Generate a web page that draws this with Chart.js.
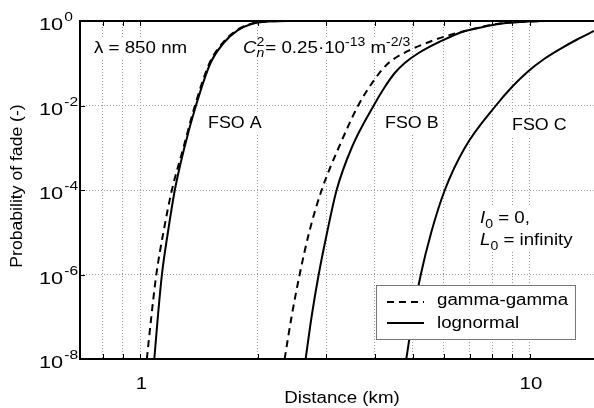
<!DOCTYPE html>
<html>
<head>
<meta charset="utf-8">
<script src="https://cdn.jsdelivr.net/npm/chart.js@4.4.1/dist/chart.umd.min.js"></script>
<style>
  html, body { margin: 0; padding: 0; background: #fff; }
  #wrap { width: 594px; height: 408px; }
</style>
</head>
<body>
<div id="wrap"><canvas id="grafico" width="594" height="408"></canvas></div>
<script>
var FUENTE = '"Liberation Sans", Arial, sans-serif';
var ESTIRA = 1.17; // el texto del original sale algo ensanchado

// Distancia (km) y probabilidad de desvanecimiento
var distA_gg = [1.039, 1.067, 1.099, 1.146, 1.205, 1.290, 1.381, 1.504, 1.625, 1.765, 1.917, 2.108, 2.415, 3.0, 14.6];
var probA_gg = [1e-8, 1e-7, 1e-6, 1e-5, 1e-4, 1e-3, 1e-2, 0.1, 0.3, 0.6, 0.85, 0.97, 1, 1, 1];
var distA_ln = [1.086, 1.109, 1.136, 1.177, 1.226, 1.297, 1.389, 1.513, 1.635, 1.776, 1.929, 2.121, 2.415, 3.0, 14.6];
var probA_ln = [1e-8, 1e-7, 1e-6, 1e-5, 1e-4, 1e-3, 1e-2, 0.1, 0.3, 0.6, 0.85, 0.97, 1, 1, 1];

var distB_gg = [2.346, 2.444, 2.564, 2.712, 2.920, 3.228, 3.624, 3.956, 4.281, 4.820, 5.533, 6.228, 7.295, 7.891, 8.884, 10.0, 11.94, 14.6];
var probB_gg = [1e-8, 1e-7, 1e-6, 1e-5, 1e-4, 1e-3, 1e-2, 0.0366, 0.0912, 0.1875, 0.3236, 0.4677, 0.676, 0.796, 0.927, 0.978, 1, 1];
var distB_ln = [2.656, 2.751, 2.869, 3.016, 3.190, 3.487, 3.972, 4.240, 4.498, 4.771, 5.155, 5.871, 6.726, 7.572, 8.374, 9.426, 10.93, 14.6];
var probB_ln = [1e-8, 1e-7, 1e-6, 1e-5, 1e-4, 1e-3, 1e-2, 0.0274, 0.0588, 0.1014, 0.170, 0.3236, 0.558, 0.721, 0.858, 0.952, 1, 1];

var distC_ln = [4.815, 5.004, 5.246, 5.581, 6.046, 6.806, 8.178, 8.990, 9.883, 10.87, 11.94, 13.21, 14.6];
var probC_ln = [1e-8, 1e-7, 1e-6, 1e-5, 1e-4, 1e-3, 1e-2, 0.0274, 0.0638, 0.126, 0.217, 0.365, 0.58];

// ejes
var xMin = 0.7, xMax = 14.6;
var xGrid = [0.8, 0.9, 1, 2, 3, 4, 5, 6, 7, 8, 9, 10];
var xLabels = [1, 10];
var yTicks = [1e-8, 1e-6, 1e-4, 1e-2, 1];

function puntos(xs, ys) {
  return xs.map(function (x, i) { return { x: x, y: ys[i] }; });
}

function serie(nombre, xs, ys, rayado) {
  return {
    label: nombre,
    data: puntos(xs, ys),
    borderColor: '#000',
    borderWidth: 2,
    borderDash: rayado ? [7, 5] : [],
    pointRadius: 0,
    fill: false,
    cubicInterpolationMode: 'monotone'
  };
}

// dibuja trozos de texto seguidos (sub/superindices con dy)
function texto(ctx, partes, x, y, fondo, estira) {
  var sx = estira || ESTIRA;
  var ancho = 0;
  var medidas = [];
  partes.forEach(function (p) {
    ctx.font = (p.it ? 'italic ' : '') + p.s + 'px ' + FUENTE;
    medidas.push(ctx.measureText(p.t).width * sx);
  });
  // ancho total
  var cx = 0;
  partes.forEach(function (p, i) {
    if (!p.queda) cx += medidas[i] + (p.dx || 0);
    else ancho = Math.max(ancho, cx + medidas[i]);
  });
  ancho = Math.max(ancho, cx);
  if (fondo) {
    ctx.fillStyle = '#fff';
    ctx.fillRect(x - 2, y - 16, ancho + 4, 22);
  }
  ctx.fillStyle = '#000';
  ctx.textBaseline = 'alphabetic';
  ctx.textAlign = 'left';
  partes.forEach(function (p, i) {
    ctx.font = (p.it ? 'italic ' : '') + p.s + 'px ' + FUENTE;
    ctx.save();
    ctx.translate(x + (p.dx || 0), y + (p.dy || 0));
    ctx.scale(sx, 1);
    ctx.fillText(p.t, 0, 0);
    ctx.restore();
    if (!p.queda) x += medidas[i] + (p.dx || 0);
  });
  return ancho;
}

var anotaciones = {
  id: 'anotaciones',
  beforeDatasetsDraw: function (chart) {
    var ctx = chart.ctx;
    ctx.save();
    texto(ctx, [{ t: '\u03bb = 850 nm', s: 16 }], 94, 53, true);
    texto(ctx, [
      { t: 'C', s: 16, it: true },
      { t: '2', s: 12, dy: -7, queda: true },
      { t: 'n', s: 12, it: true, dy: 4 },
      { t: '= 0.25\u00b710', s: 16, dx: 1 },
      { t: '-13', s: 12, dy: -7 },
      { t: ' m', s: 16 },
      { t: '-2/3', s: 12, dy: -7 }
    ], 243, 53, true);
    texto(ctx, [{ t: 'FSO A', s: 17 }], 208, 128, true, 1.05);
    texto(ctx, [{ t: 'FSO B', s: 17 }], 385, 128, true, 1.05);
    texto(ctx, [{ t: 'FSO C', s: 17 }], 512, 130, true, 1.05);
    texto(ctx, [
      { t: 'I', s: 16, it: true },
      { t: '0', s: 12, dy: 5 },
      { t: ' = 0,', s: 16 }
    ], 480, 223, true);
    texto(ctx, [
      { t: 'L', s: 16, it: true },
      { t: '0', s: 12, dy: 5 },
      { t: ' = infinity', s: 16 }
    ], 480, 245, true);
    ctx.restore();
  },
  afterDatasetsDraw: function (chart) {
    var ctx = chart.ctx;
    var a = chart.chartArea;
    var xs = chart.scales.x;
    var ys = chart.scales.y;
    ctx.save();
    // marco de los ejes
    ctx.strokeStyle = '#000';
    ctx.lineWidth = 2;
    ctx.beginPath();
    ctx.moveTo(a.right + 2, a.top);
    ctx.lineTo(a.left, a.top);
    ctx.lineTo(a.left, a.bottom);
    ctx.lineTo(a.right + 2, a.bottom);
    ctx.stroke();
    // marcas hacia dentro
    ctx.lineWidth = 1;
    ctx.beginPath();
    xGrid.forEach(function (v) {
      var px = Math.round(xs.getPixelForValue(v)) + 0.5;
      ctx.moveTo(px, a.top); ctx.lineTo(px, a.top + 5);
      ctx.moveTo(px, a.bottom); ctx.lineTo(px, a.bottom - 5);
    });
    yTicks.forEach(function (v) {
      var py = Math.round(ys.getPixelForValue(v)) + 0.5;
      ctx.moveTo(a.left, py); ctx.lineTo(a.left + 5, py);
    });
    ctx.stroke();

    // leyenda
    ctx.fillStyle = '#fff';
    ctx.fillRect(376, 285, 199, 54);
    ctx.strokeStyle = '#777';
    ctx.lineWidth = 1;
    ctx.strokeRect(376.5, 285.5, 199, 54);
    ctx.strokeStyle = '#000';
    ctx.lineWidth = 2;
    ctx.setLineDash([7, 5]);
    ctx.beginPath(); ctx.moveTo(387, 302); ctx.lineTo(424, 302); ctx.stroke();
    ctx.setLineDash([]);
    ctx.beginPath(); ctx.moveTo(387, 323); ctx.lineTo(424, 323); ctx.stroke();
    texto(ctx, [{ t: chart.data.datasets[0].label, s: 16 }], 437, 305, false);
    texto(ctx, [{ t: chart.data.datasets[1].label, s: 16 }], 437, 328, false);

    // etiquetas del eje y: 10 con exponente
    yTicks.forEach(function (v) {
      var py = ys.getPixelForValue(v);
      var ex = Math.round(Math.log10(v));
      var w = texto(ctx, [{ t: '10', s: 17 }], 39, py + 9, false, 1.28);
      texto(ctx, [{ t: String(ex), s: 13 }], 39 + w + 1, py, false, 1.2);
    });
    // etiquetas del eje x
    xLabels.forEach(function (v) {
      var px = xs.getPixelForValue(v);
      ctx.font = '17px ' + FUENTE;
      var w = ctx.measureText(String(v)).width * 1.2;
      texto(ctx, [{ t: String(v), s: 17 }], px - w / 2 + 1, 389, false, 1.2);
    });
    // titulos
    ctx.font = '16px ' + FUENTE;
    var tx = 'Distance (km)';
    var wx = ctx.measureText(tx).width * ESTIRA;
    texto(ctx, [{ t: tx, s: 16 }], 342 - wx / 2, 403, false);
    ctx.save();
    ctx.translate(22, 186);
    ctx.rotate(-Math.PI / 2);
    var ty = 'Probability of fade (-)';
    ctx.font = '16px ' + FUENTE;
    var wy = ctx.measureText(ty).width * 1.1;
    texto(ctx, [{ t: ty, s: 16 }], -wy / 2, 0, false, 1.1);
    ctx.restore();
    ctx.restore();
  }
};

var ctx = document.getElementById('grafico').getContext('2d');
new Chart(ctx, {
  type: 'line',
  data: {
    datasets: [
      serie('gamma-gamma', distA_gg, probA_gg, true),
      serie('lognormal', distA_ln, probA_ln, false),
      serie('gamma-gamma B', distB_gg, probB_gg, true),
      serie('lognormal B', distB_ln, probB_ln, false),
      serie('lognormal C', distC_ln, probC_ln, false)
    ]
  },
  options: {
    responsive: false,
    animation: false,
    layout: { padding: { top: 21, right: 0, bottom: 0, left: 0 } },
    plugins: { legend: { display: false }, tooltip: { enabled: false } },
    scales: {
      x: {
        type: 'logarithmic',
        min: xMin,
        max: xMax,
        afterBuildTicks: function (s) {
          s.ticks = xGrid.map(function (v) { return { value: v }; });
        },
        afterFit: function (s) { s.height = 49; },
        ticks: { display: false },
        grid: { color: '#999', lineWidth: 1, drawTicks: false },
        border: { display: false, dash: [1, 2] }
      },
      y: {
        type: 'logarithmic',
        min: 1e-8,
        max: 1,
        afterBuildTicks: function (s) {
          s.ticks = yTicks.map(function (v) { return { value: v }; });
        },
        afterFit: function (s) { s.width = 80; },
        ticks: { display: false },
        grid: { color: '#999', lineWidth: 1, drawTicks: false },
        border: { display: false, dash: [1, 2] }
      }
    }
  },
  plugins: [anotaciones]
});
</script>
</body>
</html>
